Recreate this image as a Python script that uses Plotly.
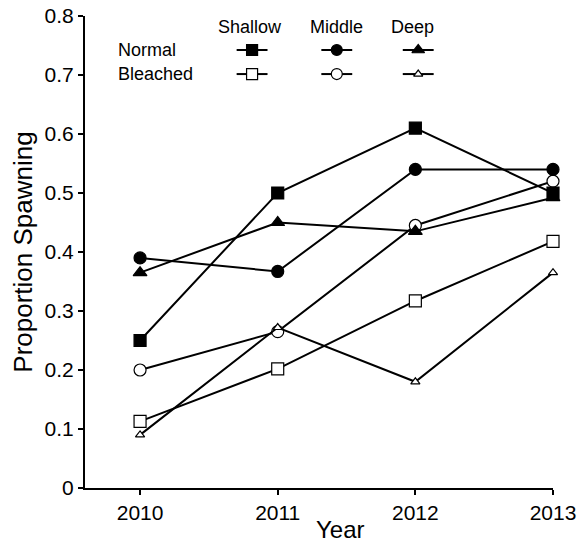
import plotly.graph_objects as go

years = [2010, 2011, 2012, 2013]

shallow_normal = [0.25, 0.50, 0.61, 0.50]
middle_normal = [0.39, 0.367, 0.54, 0.54]
deep_normal = [0.365, 0.45, 0.435, 0.492]
shallow_bleached = [0.113, 0.202, 0.317, 0.418]
middle_bleached = [0.20, 0.265, 0.445, 0.52]
deep_bleached = [0.09, 0.272, 0.18, 0.365]

y_ticks = [0, 0.1, 0.2, 0.3, 0.4, 0.5, 0.6, 0.7, 0.8]
y_tick_labels = ["0", "0.1", "0.2", "0.3", "0.4", "0.5", "0.6", "0.7", "0.8"]
depth_labels = ["Shallow", "Middle", "Deep"]
condition_labels = ["Normal", "Bleached"]

FONT = "Liberation Sans, Arial, Helvetica, sans-serif"

series = [
    (shallow_bleached, "square", "white", 12),
    (middle_bleached, "circle", "white", 12),
    (deep_bleached, "triangle-up", "white", 8),
    (shallow_normal, "square", "black", 12),
    (middle_normal, "circle", "black", 12),
    (deep_normal, "triangle-up", "black", 12),
]

fig = go.Figure()
for vals, sym, fill, size in series:
    fig.add_trace(go.Scatter(
        x=years, y=vals, mode="lines+markers",
        line=dict(color="black", width=2),
        marker=dict(symbol=sym, color=fill, size=size,
                    line=dict(color="black", width=1.2)),
        cliponaxis=False, showlegend=False, hoverinfo="skip",
    ))

# legend key (drawn on an overlaid unit axis)
legend_x = [0.357, 0.538, 0.712]
legend_half = 0.033
legend_rows = [0.928, 0.877]
legend_syms = ["square", "circle", "triangle-up"]
for r, fill in enumerate(["black", "white"]):
    for c, sym in enumerate(legend_syms):
        size = 11
        if fill == "white" and sym == "triangle-up":
            size = 8
        cx = legend_x[c]
        fig.add_trace(go.Scatter(
            x=[cx - legend_half, cx, cx + legend_half],
            y=[legend_rows[r]] * 3,
            mode="lines", line=dict(color="black", width=2),
            xaxis="x2", yaxis="y2", showlegend=False, hoverinfo="skip",
            cliponaxis=False,
        ))
        fig.add_trace(go.Scatter(
            x=[cx], y=[legend_rows[r]], mode="markers",
            marker=dict(symbol=sym, color=fill, size=size,
                        line=dict(color="black", width=1.2)),
            xaxis="x2", yaxis="y2", showlegend=False, hoverinfo="skip",
            cliponaxis=False,
        ))

header_x = [0.353, 0.538, 0.700]
annotations = []
for c, lab in enumerate(depth_labels):
    annotations.append(dict(text=lab, x=header_x[c], y=0.977, xref="paper", yref="paper",
                            showarrow=False, xanchor="center", yanchor="middle",
                            font=dict(family=FONT, size=18, color="black")))
for r, lab in enumerate(condition_labels):
    annotations.append(dict(text=lab, x=0.066, y=legend_rows[r], xref="paper", yref="paper",
                            showarrow=False, xanchor="left", yanchor="middle",
                            font=dict(family=FONT, size=18, color="black")))
# x-axis title
annotations.append(dict(text="Year", x=0.545, y=-0.088, xref="paper", yref="paper",
                        showarrow=False, xanchor="center", yanchor="middle",
                        font=dict(family=FONT, size=24, color="black")))

fig.update_layout(
    width=578, height=542,
    margin=dict(l=85, r=25, t=16, b=54, pad=0),
    paper_bgcolor="white", plot_bgcolor="white",
    font=dict(family=FONT, color="black", size=18),
    annotations=annotations,
    xaxis=dict(
        range=[2009.6, 2013], tickvals=years, ticktext=[str(y) for y in years],
        showline=True, linecolor="black", linewidth=2,
        ticks="outside", ticklen=5, tickwidth=2, tickcolor="black",
        showgrid=False, zeroline=False, automargin=False,
        ticklabeloverflow="allow",
        tickfont=dict(family=FONT, size=21),
    ),
    yaxis=dict(
        range=[0, 0.8], tickvals=y_ticks, ticktext=y_tick_labels,
        showline=True, linecolor="black", linewidth=2,
        ticks="outside", ticklen=5, tickwidth=2, tickcolor="black",
        showgrid=False, zeroline=False, automargin=False,
        ticklabeloverflow="allow",
        tickfont=dict(family=FONT, size=21),
        title=dict(text="Proportion Spawning", font=dict(family=FONT, size=26), standoff=4),
    ),
    xaxis2=dict(overlaying="x", range=[0, 1], visible=False),
    yaxis2=dict(overlaying="y", range=[0, 1], visible=False),
)

fig.write_html(
    "out.html",
    config={"displayModeBar": False},
    post_script="document.body.style.margin='0';document.body.style.overflow='hidden';",
)
